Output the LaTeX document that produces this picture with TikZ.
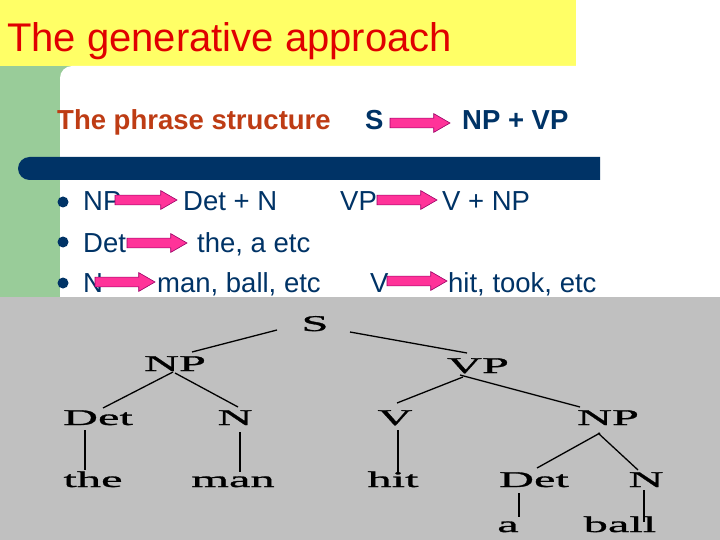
\documentclass[tikz,border=0pt]{standalone}
\usepackage{fontspec}
\setmainfont{Liberation Sans}
\newfontfamily\treefont[FakeStretch=2.15, FakeBold=1.2]{Liberation Serif}
\usetikzlibrary{shapes.arrows}
\definecolor{slideyellow}{HTML}{FFFF66}
\definecolor{slidegreen}{HTML}{99CC99}
\definecolor{slidenavy}{HTML}{003366}
\definecolor{slidegray}{HTML}{C0C0C0}
\definecolor{titlered}{HTML}{E00000}
\definecolor{headbrown}{HTML}{BE3C14}
\definecolor{rulepink}{HTML}{FF3399}
\definecolor{ruleedge}{HTML}{990066}
\tikzset{
    slidetitle/.style={anchor=base west, inner sep=0pt, text=titlered, font=\fontsize{40}{40}\selectfont},
    rulehead/.style={anchor=base west, inner sep=0pt, font=\bfseries\fontsize{27.5}{28}\selectfont},
    ruletext/.style={anchor=base west, inner sep=0pt, text=slidenavy, font=\fontsize{27.5}{28}\selectfont},
    rulearrow/.style={single arrow, draw=ruleedge, fill=rulepink, line width=0.6pt, inner xsep=0pt, inner ysep=4.6pt, outer sep=0pt, single arrow head extend=4.5pt, single arrow tip angle=60, minimum height=60pt, anchor=west},
    bulletdot/.style={circle, fill=slidenavy, inner sep=0pt, minimum size=11pt},
    treelabel/.style={anchor=base, inner sep=1pt, font=\treefont\fontsize{22.5}{22}\selectfont},
    treeedge/.style={line width=1.3pt},
    treeleaf/.style={line width=2.2pt}
}
\begin{document}
\begin{tikzpicture}[x=1pt, y=-1pt]
    \useasboundingbox (0,0) rectangle (720,540);
    \fill[white] (0,0) rectangle (720,540);
    \fill[slideyellow] (0,0) rectangle (576,66);
    \fill[slidegreen] (0,66) rectangle (80,297);
    \fill[white] (60,297) [rounded corners=12pt] -- (60,66) [sharp corners] -- (720,66) -- (720,297) -- cycle;
    \fill[slidenavy] (600,157) [rounded corners=11.5pt] -- (18,157) -- (18,180) [sharp corners] -- (600,180) -- cycle;
    \fill[slidegray] (0,297) rectangle (720,540);

    \node[slidetitle] (title) at (7,52) {The generative approach};
    \node[rulehead, text=headbrown] (phrase) at (57,130) {The phrase structure};
    \node[rulehead, text=slidenavy] (sym) at (365,130) {S};
    \node[rulehead, text=slidenavy] (symrhs) at (462,130) {NP + VP};
    \node[rulearrow] (arrS) at (390,123) {};

    \node[bulletdot] (b1) at (63,202) {};
    \node[bulletdot] (b2) at (63,242) {};
    \node[bulletdot] (b3) at (63,283) {};

    \node[ruletext] (np) at (83,211) {NP};
    \node[ruletext] (nprhs) at (183,211) {Det + N};
    \node[ruletext] (vp) at (340,211) {VP};
    \node[ruletext] (vprhs) at (442,211) {V + NP};
    \node[ruletext] (det) at (83,252) {Det};
    \node[ruletext] (detrhs) at (197,252) {the, a etc};
    \node[ruletext] (n) at (83,292) {N};
    \node[ruletext] (nrhs) at (157,292) {man, ball, etc};
    \node[ruletext] (v) at (370,292) {V};
    \node[ruletext] (vrhs) at (448,292) {hit, took, etc};

    \node[rulearrow, minimum height=62pt] (arrNP) at (115,200) {};
    \node[rulearrow] (arrVP) at (377,200) {};
    \node[rulearrow] (arrDet) at (127,243) {};
    \node[rulearrow] (arrN) at (95,282) {};
    \node[rulearrow] (arrV) at (387,281) {};

    \node[treelabel] (tS) at (315,331) {S};
    \node[treelabel] (tNP) at (175,371) {NP};
    \node[treelabel] (tVP) at (478,373) {VP};
    \node[treelabel] (tDet) at (98,425) {Det};
    \node[treelabel] (tN) at (235,425) {N};
    \node[treelabel] (tV) at (395,425) {V};
    \node[treelabel] (tNPb) at (608,425) {NP};
    \node[treelabel] (tThe) at (93,487) {the};
    \node[treelabel] (tMan) at (233,487) {man};
    \node[treelabel] (tHit) at (393,487) {hit};
    \node[treelabel] (tDetb) at (534,487) {Det};
    \node[treelabel] (tNb) at (646,487) {N};
    \node[treelabel] (tA) at (508,532) {a};
    \node[treelabel] (tBall) at (620,532) {ball};

    \draw[treeedge] ([xshift=-38pt,yshift=1pt]tS.base) -- ([xshift=17pt,yshift=19pt]tNP.base);
    \draw[treeedge] ([xshift=35pt,yshift=-1pt]tS.base) -- ([xshift=-11pt,yshift=20pt]tVP.base);
    \draw[treeedge] ([xshift=-2pt,yshift=-1pt]tNP.base) -- ([xshift=5pt,yshift=17pt]tDet.base);
    \draw[treeedge] ([xshift=0pt,yshift=-2pt]tNP.base) -- ([xshift=3pt,yshift=18pt]tN.base);
    \draw[treeedge] ([xshift=-15pt,yshift=-4pt]tVP.base) -- ([xshift=2pt,yshift=22pt]tV.base);
    \draw[treeedge] ([xshift=-18pt,yshift=-2pt]tVP.base) -- ([xshift=-28pt,yshift=18pt]tNPb.base);
    \draw[treeedge] ([xshift=-8pt,yshift=-8pt]tNPb.base) -- ([xshift=3pt,yshift=19pt]tDetb.base);
    \draw[treeedge] ([xshift=-10pt,yshift=-8pt]tNPb.base) -- ([xshift=-8pt,yshift=17pt]tNb.base);
    \draw[treeleaf] ([xshift=-13pt,yshift=-5pt]tDet.base) -- ([xshift=-8pt,yshift=17pt]tThe.base);
    \draw[treeleaf] ([xshift=5pt,yshift=-7pt]tN.base) -- ([xshift=7pt,yshift=15pt]tMan.base);
    \draw[treeleaf] ([xshift=3pt,yshift=-5pt]tV.base) -- ([xshift=5pt,yshift=14pt]tHit.base);
    \draw[treeleaf] ([xshift=-15pt,yshift=-6pt]tDetb.base) -- ([xshift=11pt,yshift=15pt]tA.base);
    \draw[treeleaf] ([xshift=-2pt,yshift=-3pt]tNb.base) -- ([xshift=24pt,yshift=10pt]tBall.base);
\end{tikzpicture}
\end{document}
